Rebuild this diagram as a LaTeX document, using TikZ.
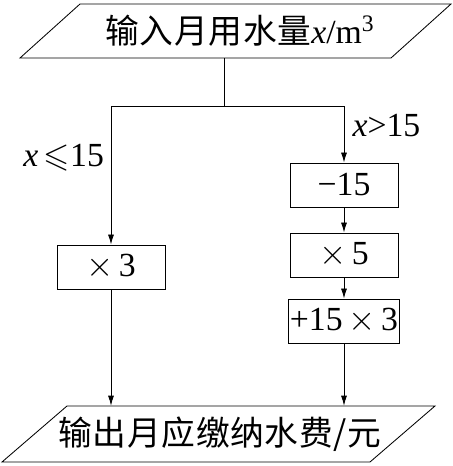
\documentclass[tikz,border=0pt]{standalone}
\usepackage{amssymb}
\usepackage{fontspec}
\setmainfont{Liberation Serif}
\newfontfamily\cjk[LetterSpace=2]{Noto Sans CJK SC}
\usetikzlibrary{positioning,arrows.meta}

\begin{document}
\begin{tikzpicture}[
  box/.style={draw, line width=0.6pt, minimum width=2.7cm, minimum height=1.1cm,
              inner sep=1pt, font=\fontsize{24}{28}\selectfont},
  io/.style={minimum height=1.35cm, inner sep=1pt, font=\fontsize{24}{28}\selectfont},
  lbl/.style={font=\fontsize{24}{28}\selectfont, inner sep=1pt},
  arr/.style={-{Latex[length=2.5mm,width=1.5mm]}, line width=0.6pt},
  ln/.style={line width=0.6pt},
]
\useasboundingbox (0,0) rectangle (11.325,11.65);

% input and output parallelograms
\draw[ln] (0.5,10.2) -- (2.0,11.55) -- (11.275,11.55) -- (9.775,10.2) -- cycle;
\node[io] (inp) at (6.0,10.875) {{\cjk 输入月用水量}\textit{x}/m\textsuperscript{3}};
\draw[ln] (0.05,0.1) -- (1.675,1.5) -- (10.875,1.5) -- (9.25,0.1) -- cycle;
\node[io, minimum height=1.4cm] (outp) at (5.5,0.8) {\cjk 输出月应缴纳水费/元};

% the two branches
\node[box] (t3)  at (2.775,4.975) {$\times$\,3};
\node[box] (m15) at (8.6,7.025) {−15};
\node[box] (t5)  at (8.6,5.275) {$\times$\,5};
\node[box] (p15) at (8.6,3.625) {+15\,$\times$\,3};

\node[lbl] (le) at (1.59,7.7) {\textit{x}\,$\leqslant$15};
\node[lbl] (gt) at (9.66,8.5) {\textit{x}>15};

\coordinate (split) at (5.6,9.0);
\draw[ln] (split |- inp.south) -- (split);
\draw[arr] (split) -| (t3);
\draw[arr] (split) -| (m15);
\foreach \a/\b in {m15/t5, t5/p15} \draw[arr] (\a) -- (\b);
\draw[arr] (t3) -- (t3 |- outp.north);
\draw[arr] (p15) -- (p15 |- outp.north);
\end{tikzpicture}
\end{document}
